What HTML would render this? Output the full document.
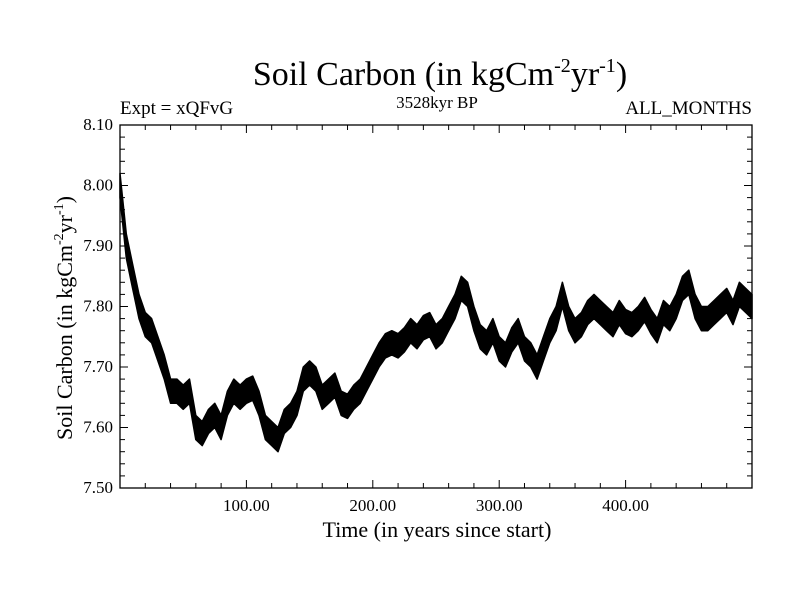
<!DOCTYPE html>
<html><head><meta charset="utf-8"><style>
body{margin:0;background:#fff}
svg text{font-family:"Liberation Serif",serif;fill:#000}
</style></head><body>
<svg width="800" height="600" xmlns="http://www.w3.org/2000/svg">
<text x="440" y="85" font-size="34" text-anchor="middle">Soil Carbon (in kgCm<tspan dy="-13" font-size="20">-2</tspan><tspan dy="13">yr</tspan><tspan dy="-13" font-size="20">-1</tspan><tspan dy="13">)</tspan></text>
<text x="120" y="114" font-size="19">Expt = xQFvG</text>
<text x="437" y="108" font-size="17" text-anchor="middle">3528kyr BP</text>
<text x="752" y="114" font-size="19" text-anchor="end">ALL_MONTHS</text>
<text x="437" y="537" font-size="22" text-anchor="middle">Time (in years since start)</text>
<text transform="translate(72,318) rotate(-90)" font-size="22" text-anchor="middle">Soil Carbon (in kgCm<tspan dy="-9" font-size="14">-2</tspan><tspan dy="9">yr</tspan><tspan dy="-9" font-size="14">-1</tspan><tspan dy="9">)</tspan></text>
<g id="ticks"></g>
<g id="series"></g>
<rect x="120" y="125" width="632" height="363" fill="none" stroke="#000" stroke-width="1.3"/>
</svg>
<script>
const years=[0,5,10,15,20,25,30,35,40,45,50,55,60,65,70,75,80,85,90,95,100,105,110,115,120,125,130,135,140,145,150,155,160,165,170,175,180,185,190,195,200,205,210,215,220,225,230,235,240,245,250,255,260,265,270,275,280,285,290,295,300,305,310,315,320,325,330,335,340,345,350,355,360,365,370,375,380,385,390,395,400,405,410,415,420,425,430,435,440,445,450,455,460,465,470,475,480,485,490,495,500];
const soilCarbon=[8.00,7.90,7.85,7.80,7.77,7.76,7.73,7.70,7.66,7.66,7.65,7.66,7.60,7.59,7.61,7.62,7.60,7.64,7.66,7.65,7.66,7.665,7.64,7.60,7.59,7.58,7.61,7.62,7.64,7.68,7.69,7.68,7.65,7.66,7.67,7.64,7.635,7.65,7.66,7.68,7.70,7.72,7.735,7.74,7.735,7.745,7.76,7.75,7.765,7.77,7.75,7.76,7.78,7.80,7.83,7.82,7.78,7.75,7.74,7.76,7.73,7.72,7.745,7.76,7.73,7.72,7.70,7.73,7.76,7.78,7.82,7.78,7.76,7.77,7.79,7.80,7.79,7.78,7.77,7.79,7.775,7.77,7.78,7.795,7.775,7.76,7.79,7.78,7.80,7.83,7.84,7.80,7.78,7.78,7.79,7.80,7.81,7.79,7.82,7.81,7.80];
const spread=0.02;
const xTickValues=[100,200,300,400];
const xTickLabels=["100.00","200.00","300.00","400.00"];
const yTickValues=[7.5,7.6,7.7,7.8,7.9,8.0,8.1];
const yTickLabels=["7.50","7.60","7.70","7.80","7.90","8.00","8.10"];
const NS="http://www.w3.org/2000/svg";
const X0=120,X1=752,Y0=488,Y1=125,XMIN=0,XMAX=500,YMIN=7.5,YMAX=8.1;
function sx(v){return X0+(v-XMIN)/(XMAX-XMIN)*(X1-X0);}
function sy(v){return Y0-(v-YMIN)/(YMAX-YMIN)*(Y0-Y1);}
const tg=document.getElementById('ticks');
function line(x1,y1,x2,y2,name){const l=document.createElementNS(NS,'line');l.setAttribute('x1',x1);l.setAttribute('y1',y1);l.setAttribute('x2',x2);l.setAttribute('y2',y2);l.setAttribute('stroke','#000');l.setAttribute('stroke-width','1');


tg.appendChild(l);}
function text(x,y,s,anchor,name){const t=document.createElementNS(NS,'text');t.setAttribute('x',x);t.setAttribute('y',y);t.setAttribute('font-size','17');t.setAttribute('text-anchor',anchor);t.textContent=s;


tg.appendChild(t);}
for(let v=20;v<500;v+=20){const big=v%100===0;const x=sx(v);line(x,Y0,x,Y0-(big?8:5),'x-tick');line(x,Y1,x,Y1+(big?8:5),'x-tick-top');}
for(let i=0;i<=30;i++){const v=7.5+i*0.02;const big=i%5===0;const y=sy(v);line(X0,y,X0+(big?8:5),y,'y-tick');line(X1,y,X1-(big?8:5),y,'y-tick-right');}
xTickValues.forEach((v,i)=>text(sx(v),511,xTickLabels[i],'middle','x-tick-label'));
yTickValues.forEach((v,i)=>text(X0-7,sy(v)+5,yTickLabels[i],'end','y-tick-label'));
const sg=document.getElementById('series');
let up=[],lo=[];
years.forEach((yr,i)=>{up.push(sx(yr).toFixed(1)+','+sy(soilCarbon[i]+spread).toFixed(1));lo.unshift(sx(yr).toFixed(1)+','+sy(soilCarbon[i]-spread).toFixed(1));});
const p=document.createElementNS(NS,'polygon');
p.setAttribute('points',up.concat(lo).join(' '));
p.setAttribute('fill','#000');p.setAttribute('stroke','#000');p.setAttribute('stroke-width','1.5');p.setAttribute('stroke-linejoin','round');


sg.appendChild(p);
</script>
</body></html>
